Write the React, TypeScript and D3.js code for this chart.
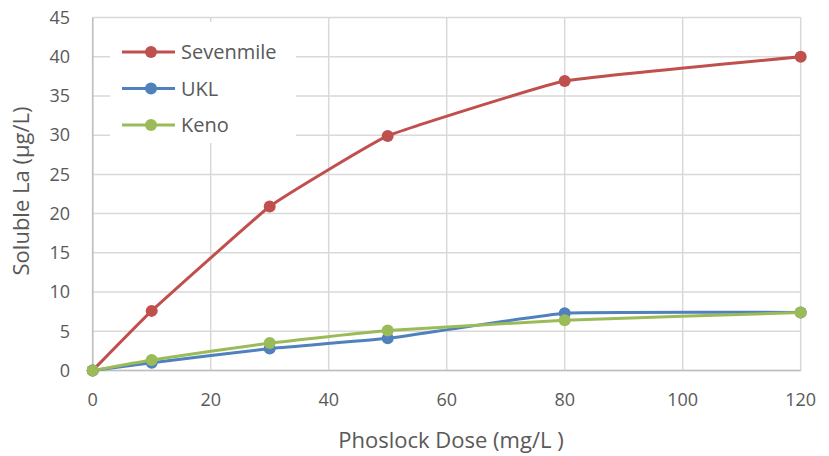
import React from "react";
import * as d3 from "d3";

const doses = [0, 10, 30, 50, 80, 120];
const sevenmile = [0, 7.6, 20.9, 29.9, 36.9, 40.0];
const ukl = [0, 1.0, 2.8, 4.1, 7.3, 7.4];
const keno = [0, 1.35, 3.5, 5.1, 6.4, 7.4];
const xTicks = [0, 20, 40, 60, 80, 100, 120];
const yTicks = [0, 5, 10, 15, 20, 25, 30, 35, 40, 45];

const seriesList = [
  { name: "Sevenmile", values: sevenmile, color: "#C0504D" },
  { name: "UKL", values: ukl, color: "#4F81BD" },
  { name: "Keno", values: keno, color: "#9BBB59" },
];

const W = 829;
const H = 456;
const FONT = "'Open Sans', Lato, sans-serif";
const TEXT = "#595959";

export default function App() {
  const x = d3.scaleLinear().domain([0, 120]).range([92.7, 800.7]);
  const y = d3.scaleLinear().domain([0, 45]).range([370.5, 17.5]);
  const line = d3
    .line<number>()
    .x((_, i) => x(doses[i]))
    .y((v) => y(v))
    .curve(d3.curveCardinal.tension(0.7));

  return (
    <svg
      width={W}
      height={H}
      style={{ position: "absolute", left: 0, top: 0, background: "#fff" }}
      fontFamily={FONT}
    >
      {/* gridlines */}
      {yTicks.map((t) => (
        <line key={"gy" + t} x1={x(0)} x2={x(120)} y1={y(t)} y2={y(t)} stroke="#d9d9d9" strokeWidth={1.5} />
      ))}
      {xTicks.map((t) => (
        <line key={"gx" + t} x1={x(t)} x2={x(t)} y1={y(0)} y2={y(45)} stroke="#d9d9d9" strokeWidth={1.5} />
      ))}
      {/* axes */}
      <line x1={x(0)} x2={x(0)} y1={y(0)} y2={y(45)} stroke="#bfbfbf" strokeWidth={1.5} />
      <line x1={x(0)} x2={x(120)} y1={y(0)} y2={y(0)} stroke="#bfbfbf" strokeWidth={1.5} />

      {/* tick labels */}
      {yTicks.map((t) => (
        <text key={"ty" + t} x={70} y={y(t)} dy="0.35em" textAnchor="end" fontSize={18} fill={TEXT}>
          {t}
        </text>
      ))}
      {xTicks.map((t) => (
        <text key={"tx" + t} x={x(t)} y={400} dy="0.35em" textAnchor="middle" fontSize={18} fill={TEXT}>
          {t}
        </text>
      ))}

      {/* axis titles */}
      <text x={451} y={440} dy="0.35em" textAnchor="middle" fontSize={22} fill={TEXT}>
        Phoslock Dose (mg/L )
      </text>
      <text
        transform={`translate(21,191) rotate(-90)`}
        dy="0.35em"
        textAnchor="middle"
        fontSize={22}
        fill={TEXT}
      >
        Soluble La (µg/L)
      </text>

      {/* series */}
      {seriesList.map((s) => (
        <g key={s.name}>
          <path d={line(s.values) ?? ""} fill="none" stroke={s.color} strokeWidth={3} />
          {s.values.map((v, i) => (
            <circle key={i} cx={x(doses[i])} cy={y(v)} r={6} fill={s.color} />
          ))}
        </g>
      ))}

      {/* legend */}
      <rect x={110} y={22} width={186} height={121} fill="#fff" />
      {seriesList.map((s, i) => {
        const ly = 52 + i * 36.5;
        return (
          <g key={"lg" + s.name}>
            <line x1={122} x2={175} y1={ly} y2={ly} stroke={s.color} strokeWidth={3} />
            <circle cx={151} cy={ly} r={6} fill={s.color} />
            <text x={181} y={ly} dy="0.35em" fontSize={20} fill={TEXT}>
              {s.name}
            </text>
          </g>
        );
      })}
    </svg>
  );
}
